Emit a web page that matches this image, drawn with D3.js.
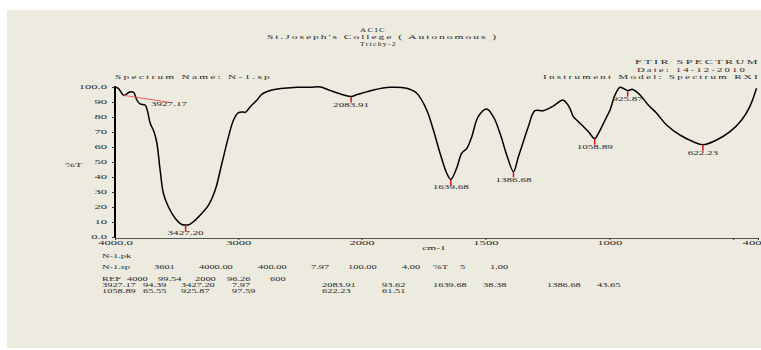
<!DOCTYPE html>
<html>
<head>
<meta charset="utf-8">
<script src="https://cdn.jsdelivr.net/npm/d3@7"></script>
<style>
  html, body { margin: 0; padding: 0; background: #fff; }
  svg { display: block; }
  text { font-family: "Liberation Serif", "Times New Roman", serif; fill: #2a2a2a; }
</style>
</head>
<body>
<svg id="chart" width="761" height="350"></svg>
<script>
// FTIR spectrum of sample N-1 (%T against wavenumber, cm-1)
const wavenumbers = [4000, 3973, 3927.17, 3890, 3864, 3846, 3824, 3797, 3756, 3740, 3729, 3715,
  3683, 3661, 3634, 3607, 3567, 3512, 3458, 3427.20, 3400, 3363, 3295, 3241, 3187, 3133, 3079,
  3038, 2998, 2960, 2943, 2902, 2848, 2807, 2726, 2631, 2523, 2415, 2333, 2252, 2171, 2144,
  2083.91, 2040, 1999, 1952, 1885, 1818, 1777, 1737, 1710, 1683, 1656, 1639.68, 1616, 1596,
  1575, 1555, 1529, 1495, 1468, 1441, 1414, 1386.68, 1367, 1347, 1327, 1300, 1266, 1226, 1188,
  1177, 1159, 1145, 1125, 1111, 1084, 1058.89, 1044, 1017, 997, 977, 957, 945, 925.87, 906,
  876, 843, 809, 769, 715, 661, 622.23, 567, 513, 466, 433, 406];
const transmittance = [100, 99.1, 94.39, 96.3, 96.9, 96.2, 91.5, 88.7, 88.0, 85, 81.3, 76,
  70, 63, 44.7, 29, 20.2, 12.5, 8.3, 7.97, 8.2, 10.2, 15.8, 21.3, 31.3, 49, 66.9,
  78, 82.9, 83.3, 83.1, 86.9, 91.3, 95.3, 98, 99.1, 99.8, 99.8, 100, 97.6, 95.3, 94.7,
  93.62, 94.8, 95.8, 98, 99.8, 99.1, 95.8, 84.7, 71.3, 55.8, 42.5, 38.38, 45.8, 55.8,
  59.1, 66.9, 80.2, 85.3, 80.2, 69.1, 54.7, 43.65, 53.5, 63.5, 73.5, 84.2, 84.2, 87.3, 91.3,
  90.2, 85.8, 80.2, 76.9, 74.7, 70.2, 65.55, 69.1, 78, 84.7, 94.7, 99.8, 99.2, 97.59, 98.4,
  94.7, 88, 82.5, 74.7, 68, 63.5, 61.51, 64.7, 70.2, 78, 86.9, 99.1];

// Picked peaks
const peakWavenumbers = [3927.17, 3427.20, 2083.91, 1639.68, 1386.68, 1058.89, 925.87, 622.23];
const peakTransmittance = [94.39, 7.97, 93.62, 38.38, 43.65, 65.55, 97.59, 61.51];

// Axis ticks
const yTicks = [0, 10, 20, 30, 40, 50, 60, 70, 80, 90, 100];
const yTickLabels = ["0.0", "10", "20", "30", "40", "50", "60", "70", "80", "90", "100.0"];
const xTicks = [4000, 3000, 2000, 1500, 1000, 500, 400];
const xTickLabels = ["4000.0", "3000", "2000", "1500", "1000", "", "400"];

// Header and report text
const titleLines = ["ACIC", "St.Joseph's College ( Autonomous )", "Trichy-2"];
const infoLines = ["FTIR SPECTRUM", "Date: 14-12-2010", "Instrument Model: Spectrum RXI"];
const spectrumName = "Spectrum Name: N-1.sp";
const peakFile = "N-1.pk";
const scanInfo = ["N-1.sp", "3601", "4000.00", "400.00", "7.97", "100.00", "4.00", "%T", "5", "1.00"];
const refInfo = ["REF", "4000", "99.54", "2000", "96.26", "600"];

const svg = d3.select("#chart");

// horizontally widen a text element to a given length
function fit(sel, len) {
  sel.attr("textLength", len).attr("lengthAdjust", "spacingAndGlyphs");
}
function stretch(sel, k) {
  sel.each(function () {
    const w = this.getComputedTextLength();
    if (w > 0) d3.select(this).attr("textLength", w * k).attr("lengthAdjust", "spacingAndGlyphs");
  });
}

// paper background
svg.append("rect").attr("x", 7).attr("y", 10).attr("width", 754).attr("height", 338)
  .attr("fill", "#edeae0");

// wavenumber scale is compressed 2x below 2000 cm-1
const x = d3.scaleLinear().domain([4000, 2000, 400]).range([115, 361.5, 758]);
const y = d3.scaleLinear().domain([0, 100]).range([237, 87]);

// titles
const titleX = [360, 267, 360];
const titleW = [26, 231, 37];
const titleY = [31.5, 38.5, 45.5];
titleLines.forEach((t, i) => {
  svg.append("text").attr("x", titleX[i]).attr("y", titleY[i])
    .style("font-size", "7px").style("letter-spacing", "1.2px").text(t)
    .call(fit, titleW[i]);
});
const infoX = [635, 637, 543];
const infoW = [125, 110, 217];
const infoY = [63.5, 71.5, 79];
infoLines.forEach((t, i) => {
  svg.append("text").attr("x", infoX[i]).attr("y", infoY[i])
    .style("font-size", "7px").style("letter-spacing", "1.4px").text(t)
    .call(fit, infoW[i]);
});
svg.append("text").attr("x", 115).attr("y", 79)
  .style("font-size", "7px").style("letter-spacing", "1.4px").text(spectrumName)
  .call(fit, 157);

// y axis
const yAxis = d3.axisLeft(y).tickValues(yTicks).tickSize(3).tickSizeOuter(0).tickPadding(5)
  .tickFormat((d, i) => yTickLabels[i]);
const gy = svg.append("g").attr("transform", "translate(115,0)").call(yAxis);
gy.select(".domain").attr("stroke", "#000").attr("stroke-width", 2)
  .attr("d", `M0,${y(100) - 1}V${y(0) + 1}`);
gy.selectAll(".tick line").attr("stroke", "#333");
gy.selectAll(".tick text").attr("fill", "#2a2a2a").attr("dy", "0.25em")
  .style("font-family", '"Liberation Serif", serif').style("font-size", "7px")
  .call(stretch, 1.8);

// x axis
const xAxis = d3.axisBottom(x).tickValues(xTicks).tickSize(2).tickSizeOuter(0).tickPadding(0)
  .tickFormat((d, i) => xTickLabels[i]);
const gx = svg.append("g").attr("transform", `translate(0,${y(0) + 1})`).call(xAxis);
gx.select(".domain").attr("stroke", "#555").attr("stroke-width", 1);
gx.selectAll(".tick line").attr("stroke", "#333");
gx.selectAll(".tick text").attr("fill", "#2a2a2a")
  .style("font-family", '"Liberation Serif", serif').style("font-size", "7px")
  .call(stretch, 1.8);
gx.selectAll(".tick text").filter((d) => d === 400).attr("text-anchor", "end").attr("x", 3);

// axis titles
svg.append("text").attr("x", 65).attr("y", 167).style("font-size", "7px").text("%T")
  .call(stretch, 1.7);
svg.append("text").attr("x", 434).attr("y", 249.5).attr("text-anchor", "middle")
  .style("font-size", "6px").text("cm-1").call(stretch, 1.9);

// spectrum trace
const pts = wavenumbers.map((w, i) => [x(w), y(transmittance[i])]);
svg.append("path").attr("d", d3.line().curve(d3.curveCatmullRom.alpha(0.5))(pts))
  .attr("fill", "none").attr("stroke", "#000").attr("stroke-width", 1.5)
  .attr("stroke-linejoin", "round");

// peak markers and labels
peakWavenumbers.forEach((w, i) => {
  const px = x(w), py = y(peakTransmittance[i]);
  if (i === 0) {
    // first peak sits against the axis: label pulled out to the right
    svg.append("line").attr("x1", px).attr("y1", py).attr("x2", px + 46).attr("y2", py + 7)
      .attr("stroke", "#f05a5a").attr("stroke-width", 1);
    svg.append("text").attr("x", px + 45).attr("y", py + 10.5).attr("text-anchor", "middle")
      .style("font-size", "6px").text(w.toFixed(2)).call(stretch, 1.85);
  } else {
    svg.append("line").attr("x1", px).attr("y1", py + 0.5).attr("x2", px).attr("y2", py + 6)
      .attr("stroke", "#e0101a").attr("stroke-width", 1.5);
    svg.append("text").attr("x", px).attr("y", py + 10).attr("text-anchor", "middle")
      .style("font-size", "6px").text(w.toFixed(2)).call(stretch, 1.85);
  }
});

// peak report below the chart
function token(tx, ty, t) {
  svg.append("text").attr("x", tx).attr("y", ty).style("font-size", "6.3px").text(t)
    .call(stretch, 1.65);
}
token(102, 257.5, peakFile);
const scanX = [102, 154, 199, 258, 311, 348, 402, 433, 460, 490];
scanInfo.forEach((t, i) => token(scanX[i], 269, t));
const refX = [102, 127, 158, 195, 227, 270];
refInfo.forEach((t, i) => token(refX[i], 280.5, t));
const colX = [102, 143, 181, 232, 322, 382, 433, 483, 547, 597];
const perRow = 5;
peakWavenumbers.forEach((w, i) => {
  const row = Math.floor(i / perRow), col = i % perRow;
  const ty = 286.5 + row * 6;
  token(colX[col * 2], ty, w.toFixed(2));
  token(colX[col * 2 + 1], ty, peakTransmittance[i].toFixed(2));
});
</script>
</body>
</html>
